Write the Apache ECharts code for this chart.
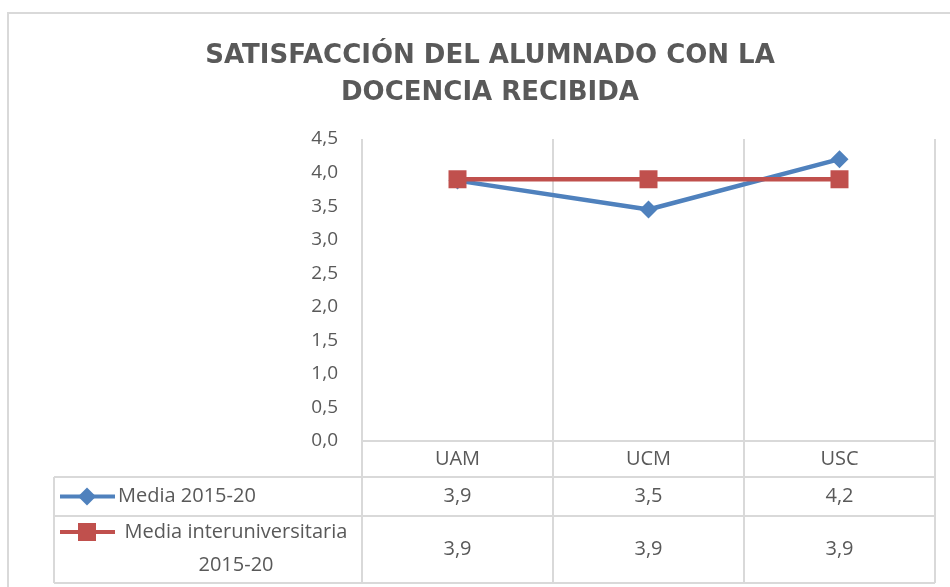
<!DOCTYPE html>
<html>
<head>
<meta charset="utf-8">
<script src="https://cdn.jsdelivr.net/npm/echarts@6/dist/echarts.min.js"></script>
<style>
html, body { margin: 0; padding: 0; background: #fff; }
#chart { width: 950px; height: 587px; }
</style>
</head>
<body>
<div id="chart"></div>
<script>
// data
var categories = ['UAM', 'UCM', 'USC'];
var mediaValues = [3.88, 3.45, 4.2];
var interValues = [3.9, 3.9, 3.9];
var seriesNames = ['Media 2015-20', 'Media interuniversitaria\n2015-20'];

var blue = '#4F81BD';
var red = '#C0504D';
var textColor = '#595959';
var lineColor = '#d9d9d9';
var bodyFont = '20px "Open Sans"';

function fmt(v) {
    return (Math.round(v * 10) / 10).toFixed(1).replace('.', ',');
}

var myChart = echarts.init(document.getElementById('chart'));

myChart.setOption({
    animation: false,
    title: {
        text: 'SATISFACCIÓN DEL ALUMNADO CON LA\nDOCENCIA RECIBIDA',
        left: 485,
        top: 33,
        textAlign: 'center',
        textStyle: {
            fontFamily: 'DejaVu Sans',
            fontSize: 26,
            fontWeight: 'bold',
            color: textColor,
            lineHeight: 37
        }
    },
    grid: { left: 362, right: 15, top: 139, bottom: 146 },
    xAxis: {
        type: 'category',
        data: categories,
        boundaryGap: true,
        axisLine: { lineStyle: { color: lineColor, width: 2 } },
        axisTick: { show: false },
        splitLine: { show: true, lineStyle: { color: lineColor, width: 2 } },
        axisLabel: { color: textColor, fontFamily: 'Open Sans', fontSize: 20, margin: 8 }
    },
    yAxis: {
        type: 'value',
        min: 0,
        max: 4.5,
        interval: 0.5,
        axisLine: { show: false },
        axisTick: { show: false },
        splitLine: { show: false },
        axisLabel: {
            color: textColor, fontFamily: 'Open Sans', fontSize: 19, margin: 24,
            formatter: function (v) { return fmt(v); }
        }
    },
    series: [
        {
            name: seriesNames[0],
            type: 'line',
            data: mediaValues,
            symbol: 'diamond',
            symbolSize: 18,
            lineStyle: { color: blue, width: 4.5 },
            itemStyle: { color: blue },
            z: 2
        },
        {
            name: seriesNames[1],
            type: 'line',
            data: interValues,
            symbol: 'rect',
            symbolSize: 18,
            lineStyle: { color: red, width: 4.5 },
            itemStyle: { color: red },
            z: 3
        }
    ]
});

// data table under the plot
var gridLeft = 362, gridRight = 935, axisY = 441;
var rowLines = [477, 516, 583];
var tableLeft = 54;
var g = [];

// outer chart border
g.push({ type: 'rect', shape: { x: 8, y: 13, width: 960, height: 600 },
    style: { fill: 'none', stroke: lineColor, lineWidth: 2 }, silent: true });

rowLines.forEach(function (y) {
    g.push({ type: 'line', shape: { x1: tableLeft, y1: y, x2: gridRight, y2: y },
        style: { stroke: lineColor, lineWidth: 2 } });
});
g.push({ type: 'line', shape: { x1: tableLeft, y1: rowLines[0], x2: tableLeft, y2: rowLines[2] },
    style: { stroke: lineColor, lineWidth: 2 } });

var step = (gridRight - gridLeft) / categories.length;
for (var i = 0; i <= categories.length; i++) {
    var x = gridLeft + step * i;
    g.push({ type: 'line', shape: { x1: x, y1: axisY, x2: x, y2: rowLines[2] },
        style: { stroke: lineColor, lineWidth: 2 } });
}

var rowCenters = [(rowLines[0] + rowLines[1]) / 2, (rowLines[1] + rowLines[2]) / 2];
var rows = [mediaValues, interValues];
rows.forEach(function (vals, r) {
    vals.forEach(function (v, c) {
        var px = myChart.convertToPixel({ xAxisIndex: 0 }, categories[c]);
        g.push({ type: 'text', x: px, y: rowCenters[r],
            style: { text: fmt(v), fill: textColor, font: bodyFont, align: 'center', verticalAlign: 'middle' } });
    });
});

// legend keys inside the table
var keyY1 = rowCenters[0], keyY2 = 532;
g.push({ type: 'line', shape: { x1: 60, y1: keyY1, x2: 115, y2: keyY1 }, style: { stroke: blue, lineWidth: 4 } });
g.push({ type: 'polygon', shape: { points: [[87, keyY1 - 9], [96, keyY1], [87, keyY1 + 9], [78, keyY1]] }, style: { fill: blue } });
g.push({ type: 'text', x: 118, y: keyY1, style: { text: seriesNames[0], fill: textColor, font: bodyFont, verticalAlign: 'middle' } });

g.push({ type: 'line', shape: { x1: 60, y1: keyY2, x2: 115, y2: keyY2 }, style: { stroke: red, lineWidth: 4 } });
g.push({ type: 'rect', shape: { x: 78, y: keyY2 - 9, width: 18, height: 18 }, style: { fill: red } });
g.push({ type: 'text', x: 236, y: 548.5, style: { text: seriesNames[1], fill: textColor, font: bodyFont, align: 'center', verticalAlign: 'middle', lineHeight: 33 } });

myChart.setOption({ graphic: g });
</script>
</body>
</html>
